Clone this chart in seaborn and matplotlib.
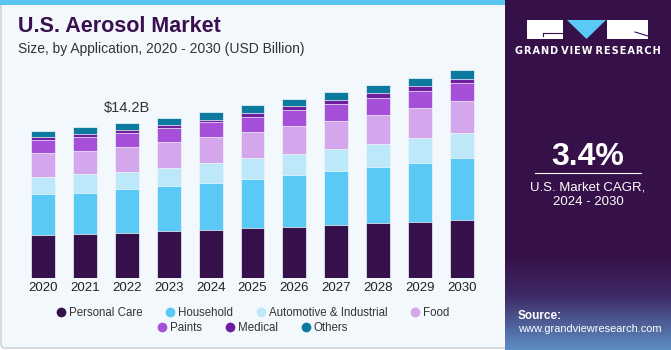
import numpy as np
import pandas as pd
import matplotlib
matplotlib.use("Agg")
import matplotlib.pyplot as plt
import seaborn as sns
from matplotlib.patches import Rectangle, FancyBboxPatch, Polygon
from matplotlib.lines import Line2D
from matplotlib.colors import to_rgb

plt.rcParams["font.family"] = ["Liberation Sans", "DejaVu Sans"]

# dados (USD bilhoes)
years = ["2020", "2021", "2022", "2023", "2024", "2025", "2026", "2027", "2028", "2029", "2030"]
personal_care = [3.96, 4.05, 4.17, 4.30, 4.44, 4.57, 4.69, 4.87, 5.05, 5.17, 5.36]
household = [3.75, 3.78, 3.97, 4.11, 4.27, 4.51, 4.75, 4.96, 5.15, 5.39, 5.67]
automotive = [1.53, 1.68, 1.58, 1.65, 1.83, 1.89, 1.95, 2.01, 2.10, 2.26, 2.29]
food = [2.19, 2.10, 2.31, 2.40, 2.35, 2.40, 2.53, 2.56, 2.60, 2.71, 2.90]
paints = [1.22, 1.33, 1.25, 1.28, 1.40, 1.40, 1.46, 1.55, 1.61, 1.58, 1.65]
medical = [0.27, 0.27, 0.30, 0.30, 0.21, 0.37, 0.34, 0.34, 0.40, 0.46, 0.39]
others = [0.58, 0.61, 0.61, 0.64, 0.68, 0.68, 0.69, 0.70, 0.76, 0.76, 0.80]

segments = ["Personal Care", "Household", "Automotive & Industrial", "Food",
            "Paints", "Medical", "Others"]
colors = ["#36104A", "#5BC9F5", "#BCE8F9", "#D4A6EC", "#A64FD8", "#6E1F9E", "#0B7A9E"]

df = pd.DataFrame({"Year": years, "Personal Care": personal_care, "Household": household,
                   "Automotive & Industrial": automotive, "Food": food, "Paints": paints,
                   "Medical": medical, "Others": others})
cum = df[segments].cumsum(axis=1)

W, H = 671, 350
fig = plt.figure(figsize=(W / 100, H / 100), dpi=100)
fig.patch.set_facecolor("white")

# cartao de fundo (fica atras de tudo)
card_bg = "#F3F8FC"
bg = fig.add_axes([0, 0, 1, 1], zorder=-5)
bg.set_axis_off()
bg.set_xlim(0, W)
bg.set_ylim(H, 0)
bg.add_patch(FancyBboxPatch((1, 1), 506, 347, boxstyle="round,pad=0,rounding_size=4",
                            facecolor=card_bg, edgecolor="#CCCCCC", linewidth=1))
bg.add_patch(Rectangle((0, 0), 505, 5, facecolor="#5BC5EE", edgecolor="none"))

# painel direito com gradiente
top_c = np.array(to_rgb("#361048"))
mid_c = np.array(to_rgb("#3E2A66"))
bot_c = np.array(to_rgb("#5E90C6"))
grad = np.zeros((H, 1, 3))
for i in range(H):
    if i < 255:
        grad[i, 0] = top_c
    elif i < 295:
        t = (i - 255) / 40
        grad[i, 0] = top_c * (1 - t) + mid_c * t
    else:
        t = (i - 295) / 55
        grad[i, 0] = mid_c * (1 - t) + bot_c * t
bg.imshow(grad, aspect="auto", extent=(505, W, H, 0), zorder=2)

# logo
bg.add_patch(Rectangle((527, 20), 36, 19, facecolor="white", edgecolor="none", zorder=3))
bg.add_patch(Rectangle((607, 20), 41, 19, facecolor="white", edgecolor="none", zorder=3))
bg.add_patch(Polygon([(567, 20), (606, 20), (586.5, 39)], closed=True,
                     facecolor="#5BC9F5", edgecolor="none", zorder=3))
bg.plot([543, 563], [32.5, 32.5], color="#36104A", linewidth=0.8, zorder=4)
bg.plot([543, 543], [32.5, 36], color="#36104A", linewidth=0.8, zorder=4)
bg.plot([635, 648], [32, 36], color="#36104A", linewidth=0.8, zorder=4)
bg.text(588, 51, "G R A N D   V I E W   R E S E A R C H".replace(" ", "\u200a"), color="white",
        fontsize=7, fontweight="bold", ha="center", va="center", zorder=4,
        family=["DejaVu Sans"])

bg.text(588, 157, "3.4%", color="white", fontsize=23, fontweight="bold",
        ha="center", va="center", zorder=4)
bg.plot([535, 641], [173, 173], color="white", linewidth=0.8, zorder=4)
bg.text(588, 187, "U.S. Market CAGR,", color="white", fontsize=9.5,
        ha="center", va="center", zorder=4)
bg.text(588, 202, "2024 - 2030", color="white", fontsize=9.5,
        ha="center", va="center", zorder=4)
bg.text(518, 316, "Source:", color="white", fontsize=8.5, fontweight="bold",
        ha="left", va="center", zorder=4)
bg.text(518, 329, "www.grandviewresearch.com", color="white", fontsize=7.9,
        ha="left", va="center", zorder=4)

# titulo
bg.text(18, 27, "U.S. Aerosol Market", color="#3A1050", fontsize=15.5,
        fontweight="bold", ha="left", va="center")
bg.text(18, 49, "Size, by Application, 2020 - 2030 (USD Billion)", color="#333333",
        fontsize=10, ha="left", va="center")

# grafico de barras empilhadas
ax = fig.add_axes([22 / W, (H - 278.3) / H, 461 / W, 218.8 / H], zorder=2)
ax.set_facecolor("none")
for seg, col in reversed(list(zip(segments, colors))):
    sns.barplot(x=df["Year"], y=cum[seg], color=col, saturation=1, width=0.57,
                edgecolor=card_bg, linewidth=0.5, ax=ax)

ax.set_ylim(0, 20)
ax.set_xlim(-0.5, 10.5)
for s in ax.spines.values():
    s.set_visible(False)
ax.set_yticks([])
ax.set_xlabel("")
ax.set_ylabel("")
ax.tick_params(axis="x", length=0, pad=3, labelsize=9.5, labelcolor="#222222")

total_2022 = cum["Others"][2]
ax.text(2, total_2022 + 1.4, f"${total_2022:.1f}B", ha="center", va="center",
        fontsize=10.5, color="#333333")

# legenda em duas linhas
handles = [Line2D([0], [0], marker="o", color="none", markerfacecolor=c, markeredgecolor="none",
                  markersize=7, label=s) for s, c in zip(segments, colors)]
leg1 = ax.legend(handles=handles[:4], ncol=4, loc="center", bbox_to_anchor=(0.5, -0.159),
                 frameon=False, fontsize=8.3, handletextpad=0.2, columnspacing=1.9,
                 handlelength=1.0, labelcolor="#333333")
ax.add_artist(leg1)
ax.legend(handles=handles[4:], ncol=3, loc="center", bbox_to_anchor=(0.5, -0.227),
          frameon=False, fontsize=8.3, handletextpad=0.2, columnspacing=1.9,
          handlelength=1.0, labelcolor="#333333")

fig.savefig("out.png", dpi=100)
